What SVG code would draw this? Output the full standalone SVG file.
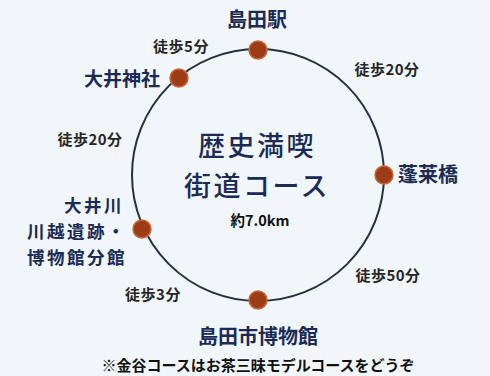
<svg xmlns="http://www.w3.org/2000/svg" width="490" height="376" viewBox="0 0 490 376">
<style>
text{font-family:"Noto Sans CJK JP","Noto Sans",sans-serif;font-weight:bold}
.st{fill:#1b2b55;font-size:20px}
.ml{fill:#1b2b55;font-size:17.5px;letter-spacing:2.5px}
.wk{fill:#262626;font-size:15px;letter-spacing:0.5px}
.big{font-size:27px;font-weight:500;fill:#1b2b55;letter-spacing:2.5px}
.dot{fill:#9c3d18;stroke:#c8683c;stroke-width:1.5}
</style>
<rect width="490" height="376" fill="#f0f6f9"/>
<g id="connectors">
<circle cx="258" cy="175" r="126" fill="none" stroke="#2a2f3e" stroke-width="2"/>
</g>
<g id="center">
<text class="big" x="257" y="156" text-anchor="middle">歴史満喫</text>
<text class="big" x="257" y="196" text-anchor="middle">街道コース</text>
<text x="260" y="226" text-anchor="middle" style="font-size:14.5px;fill:#111">約7.0km</text>
</g>
<g id="shimada-st"><circle class="dot" cx="258" cy="50" r="9"/><text class="st" x="257" y="27" text-anchor="middle">島田駅</text></g>
<g id="oi-jinja"><circle class="dot" cx="179" cy="78" r="9"/><text class="st" x="160" y="86" text-anchor="end" style="font-size:19px">大井神社</text></g>
<g id="horai"><circle class="dot" cx="384" cy="175" r="9"/><text class="st" x="398" y="182">蓬莱橋</text></g>
<g id="oigawa"><circle class="dot" cx="142" cy="229" r="9"/>
<text class="ml" x="124" y="212" text-anchor="end">大井川</text>
<text class="ml" x="127" y="238" text-anchor="end">川越遺跡・</text>
<text class="ml" x="127" y="264" text-anchor="end">博物館分館</text></g>
<g id="museum"><circle class="dot" cx="258" cy="300" r="9"/><text class="st" x="258" y="344" text-anchor="middle">島田市博物館</text></g>
<g id="walk-labels">
<text class="wk" x="181" y="52" text-anchor="middle">徒歩5分</text>
<text class="wk" x="387" y="75" text-anchor="middle">徒歩20分</text>
<text class="wk" x="90" y="145" text-anchor="middle">徒歩20分</text>
<text class="wk" x="388" y="281" text-anchor="middle">徒歩50分</text>
<text class="wk" x="153" y="300" text-anchor="middle">徒歩3分</text>
</g>
<text x="258" y="371" text-anchor="middle" style="font-size:15px;fill:#111">※金谷コースはお茶三昧モデルコースをどうぞ</text>
</svg>
